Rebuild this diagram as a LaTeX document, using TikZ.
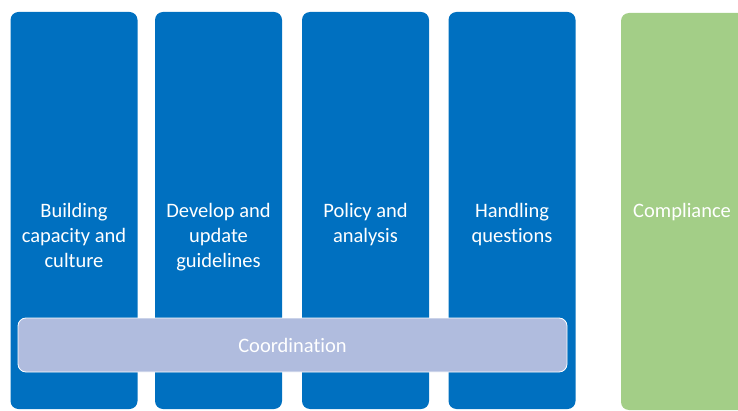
\documentclass[tikz,border=0pt]{standalone}
\usepackage{fontspec}
\setmainfont{Carlito}[Ligatures={NoCommon}]
\usetikzlibrary{positioning}
\definecolor{colblue}{HTML}{0070C0}
\definecolor{colgreen}{HTML}{A3CE87}
\definecolor{barlav}{HTML}{B0BCDE}

\begin{document}
\begin{tikzpicture}[x=1pt, y=1pt,
  column/.style={rounded corners=8pt, minimum width=127pt, minimum height=397pt, inner sep=0pt},
  lbl/.style={text=white, align=center, font=\fontsize{20.5}{25}\selectfont, inner sep=0pt, anchor=north}]
\useasboundingbox (0,0) rectangle (738,410);
\node[column, fill=colblue] (c1) at (74, 199.5) {};
\node[column, fill=colblue] (c2) at (218.5, 199.5) {};
\node[column, fill=colblue] (c3) at (365.5, 199.5) {};
\node[column, fill=colblue] (c4) at (512, 199.5) {};
\node[column, fill=colgreen, minimum width=140pt] (c5) at (691, 198.5) {};

\node[lbl] (t1) at ([yshift=-191pt]c1.north) {Building\\capacity and\\culture};
\node[lbl] (t2) at ([yshift=-191pt]c2.north) {Develop and\\update\\guidelines};
\node[lbl] (t3) at ([yshift=-191pt]c3.north) {Policy and\\analysis};
\node[lbl] (t4) at ([yshift=-191pt]c4.north) {Handling\\questions};
\node[lbl, anchor=north west] (t5) at (633, 206.5) {Compliance};

\node[draw=white, line width=0.8pt, fill=barlav, rounded corners=8pt,
  minimum width=549pt, minimum height=54pt, text=white,
  font=\fontsize{20.5}{25}\selectfont] (coord) at (292.5, 65) {Coordination};
\end{tikzpicture}
\end{document}
